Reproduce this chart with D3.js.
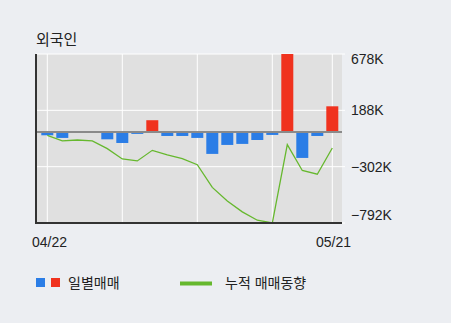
<!DOCTYPE html>
<html lang="ko">
<head>
<meta charset="utf-8"/>
<script src="https://d3js.org/d3.v7.min.js"></script>
<style>
  body { margin: 0; background: #eceef2; }
  text { font-family: "Liberation Sans", "Noto Sans CJK KR", sans-serif; fill: #222; }
</style>
</head>
<body>
<script>
var dates = ["04/22","04/23","04/24","04/25","04/26","04/29","04/30","05/02","05/03","05/07",
             "05/08","05/09","05/10","05/13","05/14","05/15","05/16","05/17","05/20","05/21"];
// daily net trading (K shares)
var daily = [-29, -52, 0, 0, -64, -96, -17, 102, -35, -35,
             -52, -191, -113, -104, -70, -26, 678, -226, -35, 223];
// cumulative trend (K shares)
var cumul = [-29, -78, -70, -78, -145, -235, -252, -160, -200, -232,
             -285, -482, -600, -695, -768, -792, -110, -335, -368, -140];
var tickVals = [678, 188, -302, -792];
var tickLabels = ["678K", "188K", "\u2212302K", "\u2212792K"];

var width = 451, height = 323;
var pL = 36, pR = 342, pT = 54, pB = 223;

var svg = d3.select("body").append("svg")
    .attr("width", width).attr("height", height);

var x = d3.scaleLinear().domain([0, dates.length - 1]).range([47.3, 332.3]);
var y = d3.scaleLinear().domain([-792, 678]).range([pB, pT]);

// plot background
svg.append("rect")
    .attr("x", pL).attr("y", pT)
    .attr("width", pR - pL).attr("height", pB - pT)
    .attr("fill", "#e0e0e0");

// grid
svg.append("g").selectAll("line")
    .data(tickVals)
    .enter().append("line")
    .attr("x1", pL).attr("x2", pR + 3)
    .attr("y1", function(d){ return y(d); })
    .attr("y2", function(d){ return y(d); })
    .attr("stroke", "#fff").attr("stroke-width", 1);

svg.append("g").selectAll("line")
    .data([0, 5, 10, 15, 19])
    .enter().append("line")
    .attr("x1", function(d){ return x(d); })
    .attr("x2", function(d){ return x(d); })
    .attr("y1", pT).attr("y2", pB)
    .attr("stroke", "#fff").attr("stroke-width", 1);

// bars
var bw = 12;
svg.append("g").selectAll("rect")
    .data(daily)
    .enter().append("rect")
    .attr("x", function(d, i){ return x(i) - bw / 2; })
    .attr("y", function(d){ return y(Math.max(0, d)); })
    .attr("width", bw)
    .attr("height", function(d){ return Math.abs(y(d) - y(0)); })
    .attr("fill", function(d){ return d > 0 ? "#f0321e" : "#2b7de6"; });

// zero line
svg.append("line")
    .attr("x1", pL).attr("x2", pR)
    .attr("y1", y(0)).attr("y2", y(0))
    .attr("stroke", "#8a8a8a").attr("stroke-width", 2);

// cumulative line
var line = d3.line()
    .x(function(d, i){ return x(i); })
    .y(function(d){ return y(d); });
svg.append("path")
    .datum(cumul)
    .attr("d", line)
    .attr("fill", "none")
    .attr("stroke", "#66b82e")
    .attr("stroke-width", 1.3);

// axes frame
svg.append("line")
    .attr("x1", pL).attr("x2", pL)
    .attr("y1", pT).attr("y2", pB + 1)
    .attr("stroke", "#333").attr("stroke-width", 2);
svg.append("line")
    .attr("x1", pL - 1).attr("x2", pR)
    .attr("y1", pB).attr("y2", pB)
    .attr("stroke", "#333").attr("stroke-width", 2);

// right tick labels
var shift = [5, 0, 0, -8];
svg.append("g").selectAll("text")
    .data(tickVals)
    .enter().append("text")
    .attr("x", 351)
    .attr("y", function(d, i){ return y(d) + shift[i]; })
    .attr("dy", "0.36em")
    .attr("font-size", 14)
    .text(function(d, i){ return tickLabels[i]; });

// date labels
svg.append("text").attr("x", 32).attr("y", 247).attr("font-size", 14).text(dates[0]);
svg.append("text").attr("x", 316).attr("y", 247).attr("font-size", 14).text(dates[dates.length - 1]);

// title
svg.append("text").attr("x", 36).attr("y", 45).attr("font-size", 15)
    .style("font-family", "'Noto Sans CJK KR', sans-serif").text("외국인");

// legend
svg.append("rect").attr("x", 36).attr("y", 278).attr("width", 9).attr("height", 9).attr("fill", "#2b7de6");
svg.append("rect").attr("x", 51).attr("y", 278).attr("width", 9).attr("height", 9).attr("fill", "#f0321e");
svg.append("text").attr("x", 68).attr("y", 288).attr("font-size", 14)
    .style("font-family", "'Noto Sans CJK KR', sans-serif").text("일별매매");
svg.append("line").attr("x1", 180).attr("x2", 212).attr("y1", 283.5).attr("y2", 283.5)
    .attr("stroke", "#66b82e").attr("stroke-width", 4);
svg.append("text").attr("x", 225).attr("y", 288).attr("font-size", 14)
    .style("font-family", "'Noto Sans CJK KR', sans-serif").text("누적 매매동향");
</script>
</body>
</html>
